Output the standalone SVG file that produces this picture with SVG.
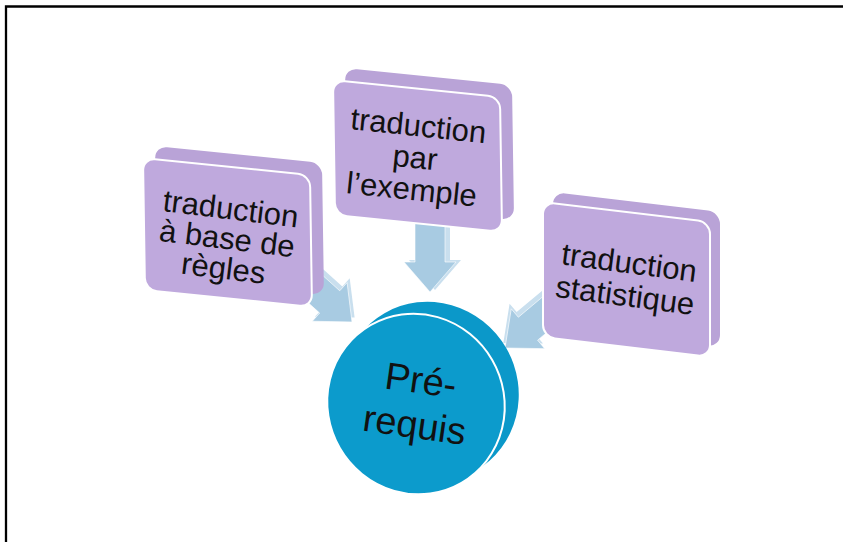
<svg xmlns="http://www.w3.org/2000/svg" width="843" height="542" viewBox="0 0 843 542">
<defs>
<style>
.frame{fill:none;stroke:#000;stroke-width:2.3}
.back{fill:#B9A3D7}
.front{fill:#BFA9DD;stroke:#fff;stroke-width:2}
.arrB{fill:#C9DFEE}
.arrF{fill:#A8CBE2;stroke:#fff;stroke-width:0.6}
.disc{fill:#0B98C9}
.discF{fill:#0C9BCC;stroke:#fff;stroke-width:2}
.t{font-family:"Liberation Sans",Arial,sans-serif;font-size:31px;fill:#111;text-anchor:middle}
.tc{font-family:"Liberation Sans",Arial,sans-serif;font-size:38px;fill:#111;text-anchor:middle}
</style>
<polygon id="arr" points="-70,-15 -30,-15 -30,-26 0,0 -30,26 -30,15 -70,15"/>
</defs>
<path class="frame" d="M6 542 V6.5 H843"/>
<g id="connectors">
<g transform="translate(352,322) rotate(42)"><use href="#arr" class="arrB" transform="translate(-1,-5)"/><use href="#arr" class="arrF"/></g>
<g transform="translate(430,292) rotate(90)"><use href="#arr" class="arrB" transform="translate(-2,-5)"/><use href="#arr" class="arrF"/></g>
<g transform="translate(505,348) rotate(140)"><use href="#arr" class="arrB" transform="translate(-2,5)"/><use href="#arr" class="arrF"/></g>
</g>
<g id="node-regles">
<rect class="back" x="0" y="0" width="167" height="132" rx="12" transform="matrix(1 0.102 0.015 1 155 146)"/>
<rect class="front" x="0" y="0" width="167" height="132" rx="12" transform="matrix(1 0.102 0.015 1 143 158)"/>
<g transform="rotate(7 226 248)">
<text class="t" x="226" y="219">traduction</text>
<text class="t" x="226" y="249">à base de</text>
<text class="t" x="226" y="279">règles</text>
</g>
</g>
<g id="node-exemple">
<rect class="back" x="0" y="0" width="167" height="135" rx="12" transform="matrix(1 0.102 0.015 1 345 68)"/>
<rect class="front" x="0" y="0" width="167" height="135" rx="12" transform="matrix(1 0.102 0.015 1 333 80)"/>
<g transform="rotate(6 414 168)">
<text class="t" x="414" y="136">traduction</text>
<text class="t" x="414" y="168">par</text>
<text class="t" x="414" y="200">l’exemple</text>
</g>
</g>
<g id="node-statistique">
<rect class="back" x="0" y="0" width="167" height="135" rx="12" transform="matrix(1 0.12 0 1 553 192)"/>
<rect class="front" x="0" y="0" width="167" height="135" rx="12" transform="matrix(1 0.12 0 1 543 202)"/>
<g transform="rotate(7.5 626 288)">
<text class="t" x="626" y="273">traduction</text>
<text class="t" x="626" y="306">statistique</text>
</g>
</g>
<g id="node-prerequis">
<ellipse class="disc" cx="430" cy="392" rx="88" ry="91" transform="rotate(-30 430 392)"/>
<ellipse class="discF" cx="416" cy="404" rx="88" ry="91" transform="rotate(-30 416 404)"/>
<g transform="rotate(8 416 415)">
<text class="tc" x="416" y="393">Pré-</text>
<text class="tc" x="416" y="438">requis</text>
</g>
</g>
</svg>
